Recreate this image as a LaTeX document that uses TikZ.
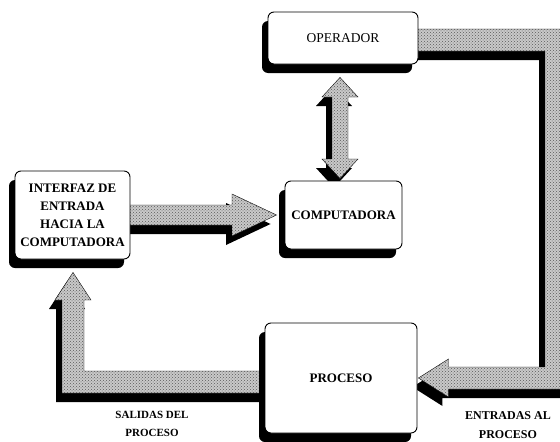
\documentclass[tikz,border=0pt]{standalone}
\usepackage{fontspec}
\setmainfont{Liberation Serif}
\usetikzlibrary{calc,shadows,patterns}
\pgfdeclarelayer{back}
\pgfsetlayers{back,main}

\begin{document}
\begin{tikzpicture}[x=1pt,y=-1pt,
  box/.style={draw=black, line width=0.9pt, fill=white, rounded corners=6pt,
    drop shadow={shadow xshift=-6pt, shadow yshift=-9pt, fill=black, opacity=1},
    inner sep=0pt, align=center},
  boldtxt/.style={font=\bfseries\fontsize{13}{18}\selectfont},
  plaintxt/.style={font=\fontsize{13.5}{16}\selectfont},
  lbl/.style={align=center, inner sep=0pt},
  bandfill/.style={fill=gray!42, draw=black, line width=0.4pt,
    postaction={pattern=crosshatch dots, pattern color=gray!70!black}},
  bandshade/.style={fill=black, transform canvas={shift={(-6pt,-9pt)}}}
]
\useasboundingbox (0,0) rectangle (560,442);

% blocks
\node[box, plaintxt, minimum width=150pt, minimum height=52pt] (op) at (343,38) {OPERADOR};
\node[box, boldtxt, minimum width=117pt, minimum height=68pt] (comp) at (343.5,215) {COMPUTADORA};
\node[box, boldtxt, minimum width=115pt, minimum height=88pt] (inf) at (72.5,215)
  {INTERFAZ DE\\ENTRADA\\HACIA LA\\COMPUTADORA};
\node[box, boldtxt, minimum width=152pt, minimum height=110pt] (proc) at (341,378) {PROCESO};

% captions of the process flows
\node[lbl, font=\bfseries\fontsize{11}{18}\selectfont] (outlbl) at (152,424) {SALIDAS DEL\\PROCESO};
\node[lbl, font=\bfseries\fontsize{12}{19}\selectfont] (inlbl) at (508,425) {ENTRADAS AL\\PROCESO};

% broad shaded arrows
\def\inloop{($(op.east)+(-6,-9)$) -- (567,29) -- (567,389) -- ($(proc.east)+(31,11)$)
  -- ($(proc.east)+(31,19)$) -- ($(proc.east)+(1,0)$) -- ($(proc.east)+(31,-19)$)
  -- ($(proc.east)+(31,-11)$) -- (545,367) -- (545,51) -- ($(op.east)+(-6,13)$) -- cycle}
\def\outloop{($(proc.west)+(6,-7)$) -- (84,371) -- (84,300) -- (91,300)
  -- ($(inf.south)+(0.5,13)$) -- (55,300) -- (62,300) -- (62,393)
  -- ($(proc.west)+(6,15)$) -- cycle}
\def\midarrow{($(inf.east)+(-6,-10)$) -- (232,205) -- (232,194) -- ($(comp.west)+(-8,0)$)
  -- (232,236) -- (232,225) -- ($(inf.east)+(-6,10)$) -- cycle}
\def\twoway{($(op.south)+(-3,13)$) -- (358,97) -- (348,97) -- (348,159) -- (358,159)
  -- ($(comp.north)+(-3.5,-2)$) -- (322,159) -- (332,159) -- (332,97) -- (322,97) -- cycle}

\begin{pgfonlayer}{back}
  \fill[bandshade] \inloop;
  \fill[bandshade] \outloop;
  \fill[bandshade] \midarrow;
  \fill[bandshade] \twoway;
  \path[bandfill] \inloop;
  \path[bandfill] \outloop;
  \path[bandfill] \midarrow;
  \path[bandfill] \twoway;
\end{pgfonlayer}
\end{tikzpicture}
\end{document}
